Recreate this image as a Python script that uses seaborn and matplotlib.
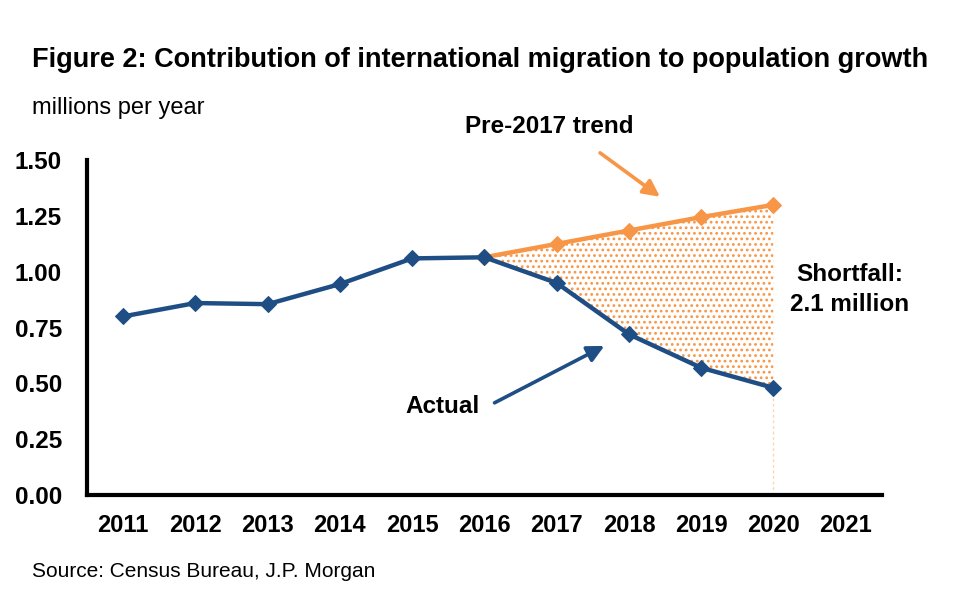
import numpy as np
import pandas as pd
import matplotlib
matplotlib.use("Agg")
import matplotlib.pyplot as plt
import seaborn as sns

years = [2011, 2012, 2013, 2014, 2015, 2016, 2017, 2018, 2019, 2020]
actual = [0.80, 0.86, 0.855, 0.945, 1.06, 1.065, 0.95, 0.72, 0.57, 0.48]
trend_years = [2016, 2017, 2018, 2019, 2020]
trend = [1.065, 1.125, 1.185, 1.245, 1.30]
year_labels = [str(y) for y in range(2011, 2022)]
y_ticks = [0.0, 0.25, 0.5, 0.75, 1.0, 1.25, 1.5]

navy = "#1f4e85"
orange = "#f79646"

sns.set_style("white")
plt.rcParams["font.family"] = ["Liberation Sans", "DejaVu Sans"]
plt.rcParams["text.color"] = "black"
plt.rcParams["xtick.color"] = "black"
plt.rcParams["ytick.color"] = "black"
plt.rcParams["hatch.linewidth"] = 1.2

df_act = pd.DataFrame({"year": years, "value": actual})
df_tr = pd.DataFrame({"year": trend_years, "value": trend})

fig = plt.figure(figsize=(9.6, 6), dpi=100)
ax = fig.add_axes([0.0906, 0.175, 0.828, 0.558])

# shaded shortfall between trend and actual
act_tail = [v for y, v in zip(years, actual) if y >= 2016]
ax.fill_between(trend_years, act_tail, trend, facecolor="none",
                edgecolor=orange, hatch="...", linewidth=0, zorder=1)
ax.vlines(2020, 0, actual[-1], colors="#fbd5b5", linestyles=(0, (2, 2)), linewidth=1, zorder=1)

sns.lineplot(data=df_tr, x="year", y="value", ax=ax, color=orange, linewidth=3.2,
             marker="D", markersize=8, markeredgecolor=orange, zorder=3)
sns.lineplot(data=df_act, x="year", y="value", ax=ax, color=navy, linewidth=3.2,
             marker="D", markersize=8, markeredgecolor=navy, zorder=4)

ax.set_xlim(2010.5, 2021.5)
ax.set_ylim(0, 1.5)
ax.set_xticks(np.arange(2010.5, 2022, 1.0))
ax.set_xticklabels([])
ax.set_xticks(range(2011, 2022), minor=True)
ax.set_xticklabels(year_labels, minor=True, fontsize=17, fontweight="bold")
ax.tick_params(axis="x", which="minor", length=0, pad=14)
ax.tick_params(axis="x", which="major", length=7, width=2.5, direction="out", color="black")
ax.set_yticks(y_ticks)
ax.set_yticklabels([f"{v:.2f}" for v in y_ticks], fontsize=17.5, fontweight="bold")
ax.tick_params(axis="y", length=7, width=2.5, direction="out", color="black", pad=11)
ax.set_xlabel("")
ax.set_ylabel("")

for s in ["top", "right"]:
    ax.spines[s].set_visible(False)
for s in ["left", "bottom"]:
    ax.spines[s].set_linewidth(3)
    ax.spines[s].set_color("black")

fig.text(0.033, 0.9, "Figure 2: Contribution of international migration to population growth",
         fontsize=19.5, fontweight="bold", va="center", ha="left")
fig.text(0.033, 0.82, "millions per year", fontsize=17, va="center", ha="left")
fig.text(0.033, 0.048, "Source: Census Bureau, J.P. Morgan", fontsize=15, va="center", ha="left")

arrow_kw = dict(arrowstyle="-|>,head_length=1.0,head_width=0.5", lw=2.6, shrinkA=0, shrinkB=0)
ax.text(2016.9, 1.65, "Pre-2017 trend", fontsize=17.5, fontweight="bold",
        ha="center", va="center", clip_on=False)
ax.annotate("", xy=(2018.43, 1.336), xytext=(2017.6, 1.533), annotation_clip=False,
            arrowprops=dict(color=orange, **arrow_kw))
ax.text(2015.42, 0.395, "Actual", fontsize=17.5, fontweight="bold", ha="center", va="center")
ax.annotate("", xy=(2017.66, 0.668), xytext=(2016.14, 0.413),
            arrowprops=dict(color=navy, **arrow_kw))
ax.text(2021.05, 0.92, "Shortfall:\n2.1 million", fontsize=17.5, fontweight="bold",
        ha="center", va="center", linespacing=1.4)

fig.savefig("out.png", dpi=100)
